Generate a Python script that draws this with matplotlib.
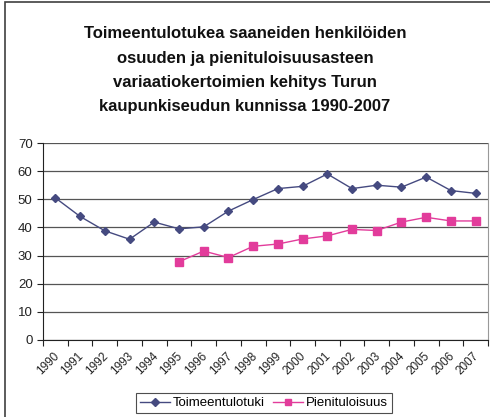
import numpy as np
import matplotlib.pyplot as plt
from matplotlib.patches import Rectangle

plt.rcParams['font.family'] = ['Liberation Sans', 'DejaVu Sans']

# vuodet ja sarjat
years = [str(y) for y in range(1990, 2008)]
toimeentulotuki = [50.5, 43.9, 38.8, 35.8, 41.9, 39.5, 40.2, 45.8, 49.9,
                   53.8, 54.6, 59.0, 53.8, 55.0, 54.3, 57.9, 53.1, 52.1]
pienituloisuus_years = [str(y) for y in range(1995, 2008)]
pienituloisuus = [27.8, 31.6, 29.3, 33.3, 34.1, 35.9, 37.0, 39.3, 38.9,
                  41.9, 43.6, 42.3, 42.3]
yticks = [0, 10, 20, 30, 40, 50, 60, 70]
title = ("Toimeentulotukea saaneiden henkilöiden\n"
         "osuuden ja pienituloisuusasteen\n"
         "variaatiokertoimien kehitys Turun\n"
         "kaupunkiseudun kunnissa 1990-2007")

fig = plt.figure(figsize=(4.9, 4.17), dpi=100)
# ulkoreunus
fig.patches.append(Rectangle((5 / 490, -0.01), 1.0, 1.0 - 2 / 417 + 0.01,
                             transform=fig.transFigure, fill=False,
                             edgecolor='#404040', linewidth=1.2))

ax = fig.add_axes([43 / 490, 1 - 340 / 417, 445 / 490, 197 / 417])

x1 = np.arange(len(years))
x2 = np.array([years.index(y) for y in pienituloisuus_years])

ax.plot(x1, toimeentulotuki, color='#454a80', marker='D', markersize=4.5,
        linewidth=1, label='Toimeentulotuki', zorder=3)
ax.plot(x2, pienituloisuus, color='#e23c9b', marker='s', markersize=5.5,
        linewidth=1, label='Pienituloisuus', zorder=3)

ax.set_xlim(-0.5, len(years) - 0.5)
ax.set_ylim(0, 70)
ax.set_yticks(yticks)
ax.yaxis.grid(True, color='#555555', linewidth=0.9)
ax.set_axisbelow(True)

ax.set_xticks(np.arange(len(years) + 1) - 0.5)
ax.set_xticklabels([])
ax.set_xticks(x1 - 0.1, minor=True)
ax.set_xticklabels(years, minor=True, rotation=45, ha='right',
                   rotation_mode='anchor', fontsize=8.5, color='#222222')
ax.tick_params(axis='x', which='minor', length=0, pad=7)
ax.tick_params(axis='x', which='major', length=4, color='#222222')
ax.tick_params(axis='y', length=4, labelsize=9.5, color='#222222',
               labelcolor='#222222')

ax.spines['top'].set_visible(False)
ax.spines['right'].set_color('#999999')
ax.spines['left'].set_color('#222222')
ax.spines['bottom'].set_color('#222222')

fig.text(0.5, 1 - 70 / 417, title, ha='center', va='center', fontsize=12,
         fontweight='bold', linespacing=1.75, color='#111111')

leg = fig.legend(loc='center', bbox_to_anchor=(264 / 490, 1 - 403 / 417),
                 ncol=2, fontsize=9.5, frameon=True, fancybox=False,
                 handlelength=2.3, handletextpad=0.2, columnspacing=0.6,
                 borderpad=0.3, markerscale=0.8)
leg.get_frame().set_edgecolor('#222222')
leg.get_frame().set_linewidth(0.8)

fig.savefig('out.png', dpi=100)
